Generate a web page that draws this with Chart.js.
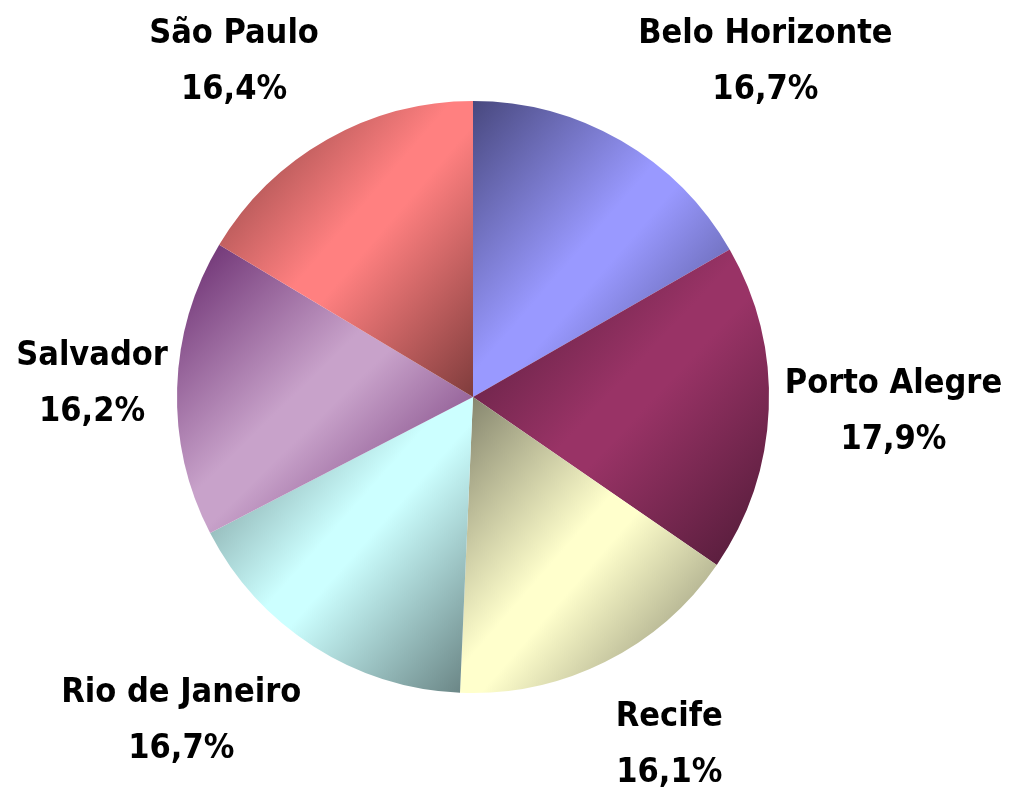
<!DOCTYPE html>
<html><head><meta charset="utf-8">
<script src="https://cdn.jsdelivr.net/npm/chart.js@4.4.0/dist/chart.umd.min.js"></script>
<style>html,body{margin:0;padding:0;background:#fff;} #wrap{width:1010px;height:788px;position:relative}</style>
</head><body><div id="wrap"><canvas id="c" width="1010" height="788"></canvas></div>
<script>
const categories = ['Belo Horizonte', 'Porto Alegre', 'Recife', 'Rio de Janeiro', 'Salvador', 'São Paulo'];
const values = [16.7, 17.9, 16.1, 16.7, 16.2, 16.4];
const sliceColors = ['#9999FF', '#993366', '#FFFFCC', '#CCFFFF', '#C8A2CA', '#FF8080'];
const sliceDarkColors = ['#48487E', '#4E1A36', '#80806A', '#668080', '#66286C', '#7F3C3C'];
// label placement relative to slice mid-angle (degrees offset, radius factor)
const labelAngleOffset = [10.8, -0.7, -3.2, 9.7, 0.6, -5.7];
const labelRadiusFactor = [1.510, 1.421, 1.340, 1.465, 1.288, 1.400];

const FONT_SIZE = 34;
const FONT = "bold " + FONT_SIZE + "px 'DejaVu Sans Condensed', 'DejaVu Sans', sans-serif";
const LINE_GAP = 56;

const gradientPlugin = {
  id: 'sliceGradient',
  beforeDatasetsDraw(chart) {
    const ctx = chart.ctx;
    const meta = chart.getDatasetMeta(0);
    meta.data.forEach((arc, i) => {
      const p = arc.getProps(['x','y','startAngle','endAngle','outerRadius'], true);
      const pts = [[p.x, p.y]];
      pts.push([p.x + p.outerRadius*Math.cos(p.startAngle), p.y + p.outerRadius*Math.sin(p.startAngle)]);
      pts.push([p.x + p.outerRadius*Math.cos(p.endAngle), p.y + p.outerRadius*Math.sin(p.endAngle)]);
      for (let k = -4; k <= 8; k++) {
        const a = k*Math.PI/2;
        if (a > p.startAngle && a < p.endAngle) pts.push([p.x + p.outerRadius*Math.cos(a), p.y + p.outerRadius*Math.sin(a)]);
      }
      const xs = pts.map(q=>q[0]), ys = pts.map(q=>q[1]);
      const x0 = Math.min(...xs), x1 = Math.max(...xs), y0 = Math.min(...ys), y1 = Math.max(...ys);
      const w = x1 - x0, h = y1 - y0;
      // Office-style diagonal gradient: isolines parallel to the anti-diagonal of the box
      const k = 2*w*h/(w*w + h*h);
      const g = ctx.createLinearGradient(x0, y0, x0 + k*h, y0 + k*w);
      const base = sliceColors[i], dark = sliceDarkColors[i];
      g.addColorStop(0, dark);
      g.addColorStop(0.46, base);
      g.addColorStop(0.54, base);
      g.addColorStop(1, dark);
      if (Object.isFrozen(arc.options)) arc.options = Object.assign({}, arc.options);
      arc.options.backgroundColor = g;
    });
  }
};

const labelPlugin = {
  id: 'sliceLabels',
  afterDatasetsDraw(chart) {
    const ctx = chart.ctx;
    const meta = chart.getDatasetMeta(0);
    const total = values.reduce((a,b)=>a+b,0);
    ctx.save();
    ctx.font = FONT;
    ctx.fillStyle = '#000';
    ctx.textAlign = 'center';
    ctx.textBaseline = 'alphabetic';
    const capH = FONT_SIZE*0.73;
    meta.data.forEach((arc, i) => {
      const p = arc.getProps(['x','y','startAngle','endAngle','outerRadius'], true);
      const a = (p.startAngle + p.endAngle)/2 + labelAngleOffset[i]*Math.PI/180;
      const rr = p.outerRadius*labelRadiusFactor[i];
      const cx = p.x + rr*Math.cos(a), cy = p.y + rr*Math.sin(a);
      const pct = (values[i]/total*100).toFixed(1).replace('.', ',') + '%';
      ctx.fillText(categories[i], cx, cy - LINE_GAP/2 + capH/2);
      ctx.fillText(pct, cx, cy + LINE_GAP/2 + capH/2);
    });
    ctx.restore();
  }
};

new Chart(document.getElementById('c'), {
  type: 'pie',
  data: {
    labels: categories,
    datasets: [{
      data: values,
      backgroundColor: (c) => sliceColors[c.dataIndex % sliceColors.length],
      borderWidth: 0
    }]
  },
  options: {
    responsive: false,
    devicePixelRatio: 1,
    animation: false,
    layout: { padding: { left: 177, right: 241, top: 101, bottom: 95 } },
    plugins: { legend: { display: false }, tooltip: { enabled: false } }
  },
  plugins: [gradientPlugin, labelPlugin]
});
</script>
</body></html>
